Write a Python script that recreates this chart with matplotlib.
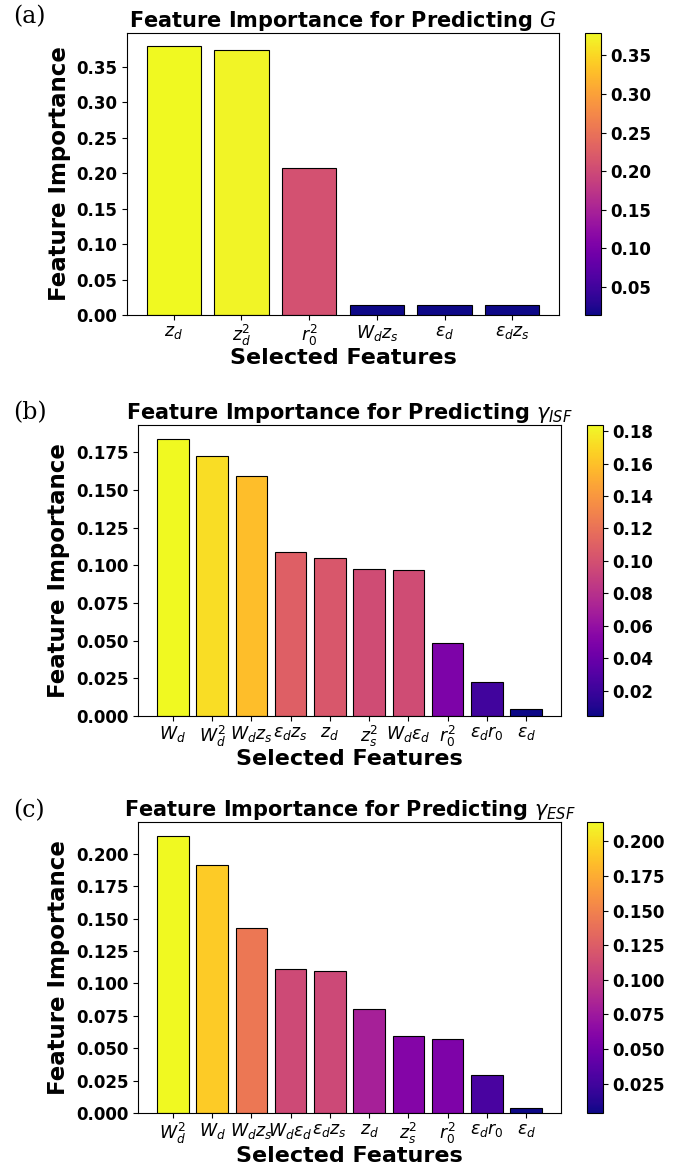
import numpy as np
import matplotlib
matplotlib.use("Agg")
import matplotlib.pyplot as plt
from matplotlib import cm
from matplotlib.colors import Normalize
from matplotlib.ticker import MultipleLocator

# panel (a): G
feat_g = [r"$z_d$", r"$z_d^2$", r"$r_0^2$", r"$W_dz_s$", r"$\varepsilon_d$", r"$\varepsilon_dz_s$"]
imp_g = [0.379, 0.374, 0.208, 0.0143, 0.0138, 0.0138]

# panel (b): gamma_ISF
feat_isf = [r"$W_d$", r"$W_d^2$", r"$W_dz_s$", r"$\varepsilon_dz_s$", r"$z_d$", r"$z_s^2$",
            r"$W_d\varepsilon_d$", r"$r_0^2$", r"$\varepsilon_dr_0$", r"$\varepsilon_d$"]
imp_isf = [0.1838, 0.1721, 0.1589, 0.1089, 0.1045, 0.0972, 0.0970, 0.0486, 0.0223, 0.0044]

# panel (c): gamma_ESF
feat_esf = [r"$W_d^2$", r"$W_d$", r"$W_dz_s$", r"$W_d\varepsilon_d$", r"$\varepsilon_dz_s$", r"$z_d$",
            r"$z_s^2$", r"$r_0^2$", r"$\varepsilon_dr_0$", r"$\varepsilon_d$"]
imp_esf = [0.2139, 0.1912, 0.1426, 0.1109, 0.1099, 0.0803, 0.0597, 0.0571, 0.0293, 0.0039]

titles = [r"Feature Importance for Predicting $G$",
          r"Feature Importance for Predicting $\gamma_{ISF}$",
          r"Feature Importance for Predicting $\gamma_{ESF}$"]
panel_labels = ["(a)", "(b)", "(c)"]

# tick spacing of the value axis and of the colorbar
y_steps = [0.05, 0.025, 0.025]
cb_steps = [0.05, 0.02, 0.025]

W, H = 681, 1169
fig = plt.figure(figsize=(W / 100, H / 100), dpi=100)


def box(left, top, right, bottom):
    # pixel box -> figure fraction rect
    return [left / W, 1 - bottom / H, (right - left) / W, (bottom - top) / H]


# pixel boxes: axes, colorbar, panel label y
layout = [
    ((127, 33, 559, 315), (585, 33, 601, 315), 5),
    ((138, 425, 561, 716), (587, 425, 603, 716), 401),
    ((138, 822, 561, 1113), (587, 822, 603, 1113), 799),
]

panels = [(feat_g, imp_g), (feat_isf, imp_isf), (feat_esf, imp_esf)]
cmap = plt.get_cmap("plasma")

for i, ((feats, vals), (abox, cbox, ly)) in enumerate(zip(panels, layout)):
    ax = fig.add_axes(box(*abox))
    cax = fig.add_axes(box(*cbox))
    vals = np.asarray(vals)
    norm = Normalize(vmin=vals.min(), vmax=vals.max())
    x = np.arange(len(feats))
    ax.bar(x, vals, color=cmap(norm(vals)), edgecolor="black", linewidth=0.8)
    ax.set_xticks(x)
    ax.set_xticklabels(feats, fontsize=12.5)
    ax.tick_params(axis="x", pad=2)
    ax.yaxis.set_major_locator(MultipleLocator(y_steps[i]))
    ax.tick_params(axis="y", labelsize=12)
    plt.setp(ax.get_yticklabels(), fontweight="bold")
    ax.set_ylabel("Feature Importance", fontsize=16.5, fontweight="bold")
    ax.set_xlabel("Selected Features", fontsize=16, fontweight="bold", labelpad=0)
    ax.set_title(titles[i], fontsize=15, fontweight="bold", pad=3)

    sm = cm.ScalarMappable(norm=norm, cmap=cmap)
    sm.set_array([])
    cb = fig.colorbar(sm, cax=cax)
    cb.set_ticks(MultipleLocator(cb_steps[i]))
    cb.ax.tick_params(labelsize=12)
    plt.setp(cb.ax.get_yticklabels(), fontweight="bold")

    fig.text(13 / W, 1 - ly / H, panel_labels[i], family="DejaVu Serif", fontsize=17,
             va="top", ha="left")

fig.savefig("out.png", dpi=100)
